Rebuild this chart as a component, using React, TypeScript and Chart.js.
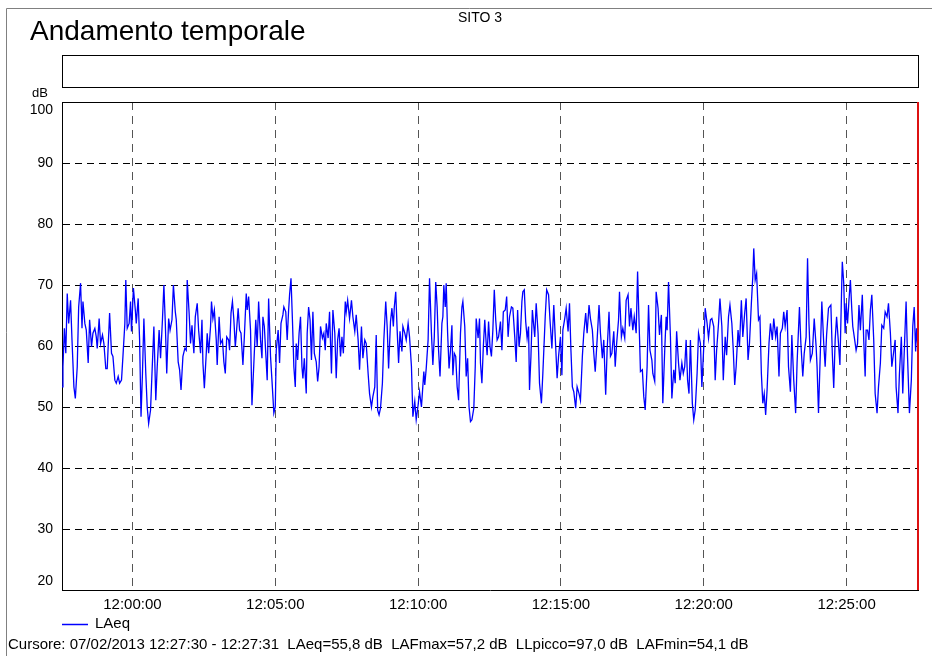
import React, { useEffect, useRef } from "react";
import { Chart, registerables } from "chart.js";

Chart.register(...registerables);

const TITLE = "Andamento temporale";
const SITE = "SITO 3";
const UNIT = "dB";
const SERIES_LABEL = "LAeq";
const CURSOR_TEXT =
  "Cursore: 07/02/2013 12:27:30 - 12:27:31  LAeq=55,8 dB  LAFmax=57,2 dB  LLpicco=97,0 dB  LAFmin=54,1 dB";

// time axis in seconds relative to 12:00:00
const X_MIN = -148;
const X_MAX = 1650;
const cursorSeconds = 1650;
const xTickSeconds = [0, 300, 600, 900, 1200, 1500];
const xTickLabels = ["12:00:00", "12:05:00", "12:10:00", "12:15:00", "12:20:00", "12:25:00"];
const yTickValues = [20, 30, 40, 50, 60, 70, 80, 90, 100];
const yTickLabels = ["20", "30", "40", "50", "60", "70", "80", "90", "100"];

// sample times (s from 12:00:00)
const timeSec = [
  -148, -146, -143, -140, -137, -134, -130, -127, -123, -120,
  -116, -113, -109, -106, -104, -100, -97, -93, -90, -86,
  -83, -79, -76, -74, -70, -67, -63, -60, -56, -53,
  -48, -44, -41, -37, -34, -30, -27, -23, -20, -16,
  -14, -11, -7, -4, -2, 2, 6, 8, 12, 15,
  18, 21, 24, 28, 31, 34, 38, 41, 45, 49,
  52, 56, 59, 63, 66, 69, 72, 76, 79, 83,
  86, 90, 92, 96, 99, 102,
  106, 110, 113, 115, 119, 122, 125, 129, 132, 136,
  139, 143, 146, 148, 151, 155, 157, 160, 164, 166,
  169, 172, 176, 178, 182, 185, 189, 192, 195, 198,
  202, 204, 207, 210, 213, 216, 218, 222, 225, 228,
  232, 235, 239, 241, 244, 248, 251, 255, 259, 262,
  265, 269, 272, 274, 277, 280, 283, 286, 290, 293,
  297, 300, 302, 306, 309, 312, 316, 318, 322, 325,
  328, 330, 333, 336, 339, 342, 344, 347, 350, 353,
  356,
  358, 361, 365, 367, 370, 373, 376, 379, 382, 386,
  389, 392, 395, 399, 402, 405, 407, 411, 414, 418,
  421, 425, 428, 431, 434, 437, 440, 443, 447, 449,
  452, 456, 460, 463, 467, 470, 474, 477, 481, 484,
  488, 491, 495, 498, 502, 505, 509, 512, 515, 518,
  521, 525, 528, 532, 535, 538, 542, 545, 548, 550,
  553, 556, 559, 562, 566, 568, 572, 575, 579, 582,
  586, 589, 593, 596, 600, 603, 607, 612,
  614, 617, 621, 624, 628, 631, 634, 637, 640, 643,
  646, 650, 652, 654, 657, 659, 662, 665, 668, 671,
  673, 676, 679, 682, 685, 689, 692, 694, 698, 701,
  704, 707, 710, 713, 717, 720, 722, 726, 729, 731,
  734, 737, 740, 743, 745, 748, 751, 754, 757, 760,
  763, 766, 769, 773, 776, 779, 783, 786, 789, 792,
  796, 799, 803, 806, 809, 812, 815, 818, 820, 823,
  826, 829, 832, 834, 837, 840, 843, 845, 848, 852,
  855, 859, 862,
  867, 870, 874, 877, 881, 885, 888, 892, 895, 899,
  902, 904, 908, 911, 915, 918, 921, 924, 927, 931,
  934, 938, 941, 945, 948, 952, 955, 959, 962, 966,
  969, 972, 976, 980, 983, 987, 990, 994, 997, 1001,
  1004, 1007, 1011, 1014, 1017, 1021, 1023, 1027, 1030, 1034,
  1037, 1041, 1044, 1047, 1051, 1054, 1058, 1061, 1065, 1067,
  1071, 1074, 1077, 1081, 1084, 1087, 1091, 1093, 1097, 1100,
  1104, 1107, 1111, 1114,
  1118, 1121, 1123, 1126, 1130, 1133, 1137, 1140, 1143, 1147,
  1150, 1154, 1157, 1160, 1163, 1166, 1169, 1172, 1176, 1179,
  1182, 1186, 1189, 1193, 1196, 1200, 1203, 1207, 1210, 1214,
  1217, 1221, 1224, 1227, 1231, 1234, 1238, 1241, 1245, 1248,
  1252, 1255, 1259, 1262, 1265, 1268, 1272, 1275, 1279, 1282,
  1286, 1289, 1293, 1296, 1300, 1303, 1305, 1308, 1311, 1315,
  1318, 1321, 1324, 1327, 1330, 1333, 1337, 1340, 1344, 1347,
  1351, 1354, 1358, 1361, 1365, 1368,
  1371, 1375, 1378, 1382, 1385, 1389, 1393, 1396, 1401, 1404,
  1408, 1411, 1415, 1418, 1421, 1424, 1428, 1432, 1436, 1438,
  1441, 1445, 1448, 1452, 1455, 1458, 1462, 1464, 1467, 1470,
  1473, 1476, 1479, 1483, 1486, 1490, 1491, 1494, 1497, 1499,
  1502, 1505, 1508, 1511, 1513, 1517, 1520, 1523, 1526, 1529,
  1533, 1536, 1539, 1541, 1544, 1547, 1550, 1553, 1557, 1560,
  1564, 1567, 1571, 1574, 1578, 1581, 1585, 1588, 1592, 1595,
  1599, 1602, 1604, 1608, 1611, 1615, 1618, 1622, 1625, 1628,
  1632, 1636, 1639, 1642, 1645, 1647, 1650,
];

// LAeq values (dB)
const laeqDb = [
  53.3, 56.6, 62.9, 58.8, 68.6, 63.7, 67.5, 61, 53.3, 51.4,
  56.6, 66.4, 70.3, 62.9, 67.3, 63.7, 62.6, 57.2, 64.3, 59.9,
  62.1, 62.9, 61.5, 59.6, 64.5, 60.4, 61.8, 60.4, 56.3, 56.3,
  65.4, 58.8, 58.3, 54.4, 53.9, 55, 53.9, 54.4, 58.3, 63.7,
  70.8, 62.9, 63.7, 67.3, 62.4, 69.5, 65.9, 63.7, 67.8, 61,
  48.4, 55.5, 64.5, 55.5, 50, 47.3, 49.5, 55.5, 63.2, 51.1,
  56.6, 62.6, 58, 64.3, 70, 63.7, 55.5, 64.5, 62.6, 64.3,
  70, 65.6, 64.3, 57.4, 56.1, 52.8,
  58.3, 59.6, 59.3, 70.8, 65.4, 60.4, 63.4, 58.8, 64.8, 67,
  62.6, 58.8, 64.3, 57.2, 53.1, 58.8, 62.1, 58.8, 63.2, 67.3,
  64.5, 65.9, 61, 56.9, 64.8, 60.4, 61, 57.4, 55.5, 61.5,
  61, 59.3, 65.4, 67.3, 64.3, 59.9, 61.8, 66.2, 62.6, 62.1,
  56.9, 61.5, 68.6, 65.9, 68.1, 62.6, 50.3, 57.2, 64.3, 59.9,
  67.3, 61, 58, 64.8, 63.2, 58.8, 54.4, 67.8, 58.3, 54.4,
  49, 50, 59.3, 62.6, 57.2, 63.7, 65.1, 66.4, 65.6, 61,
  65.9, 68.4, 71.1, 64.3, 56.6, 53.3, 60.4, 57.7, 62.1, 64.8,
  56.6,
  54.7, 58, 52.2, 62.1, 66.4, 64.3, 57.7, 65.6, 58.8, 57.4,
  54.2, 56.6, 63.2, 61.3, 62.1, 59.3, 63.7, 61.3, 65.6, 55.5,
  65.9, 62.1, 54.7, 61, 62.9, 58.3, 61.5, 58.8, 67.3, 65.6,
  67.5, 64.5, 67.5, 64.8, 62.4, 65.1, 61, 56.1, 63.2, 58,
  61, 60.4, 55.5, 52.2, 50, 51.7, 53.3, 61.8, 49.5, 48.7,
  49.8, 53.9, 61, 67.3, 63.2, 56.3, 64, 66.2, 63.2, 66.4,
  68.9, 62.6, 57.2, 62.4, 59.1, 63.2, 62.1, 61, 63.7, 61.5,
  56.6, 48.4, 50.9, 47.9, 50.3, 52.5, 50, 55.8,
  53.6, 56.3, 61, 71.1, 62.1, 56.9, 61.5, 70.5, 66.4, 59.3,
  55, 63.7, 64.8, 70, 66.4, 70.3, 62.1, 56.3, 59.3, 63.4,
  55.2, 58.8, 58.3, 53.3, 51.1, 62.1, 66.4, 67.3, 63.2, 55,
  58, 50, 47.6, 47.9, 49.8, 56.6, 64.5, 61.3, 64.5, 57.2,
  53.9, 59.9, 64.3, 60.4, 58.5, 64, 59.9, 58.3, 62.6, 69.2,
  64.3, 61, 61.5, 64, 59.3, 65.6, 65.9, 68.1, 61.5, 64.8,
  66.4, 66.2, 61.5, 57.4, 65.9, 59.9, 62.1, 67.3, 68.9, 69.2,
  64, 61.3, 63.2, 52.8, 58.3, 65.9, 63.2, 61.5, 67, 62.1,
  53.9, 50.6, 55.5,
  64.8, 69.2, 68.4, 64.3, 59.6, 66.7, 61.5, 54.7, 58.3, 61.5,
  55.2, 62.6, 64.5, 66.2, 62.4, 67, 59.3, 53.3, 52.5, 49.8,
  53.3, 52.2, 51.1, 58.3, 62.1, 65.4, 62.1, 66.7, 64.5, 62.6,
  58.8, 55.8, 61, 66.7, 62.1, 58, 61, 52, 59.3, 65.6,
  58.3, 58.8, 62.4, 56.6, 60.4, 64.3, 68.9, 61.5, 62.9, 61.3,
  67.5, 68.4, 63.2, 66.2, 62.6, 64.8, 62.1, 72.2, 61.5, 55.8,
  56.1, 51.7, 49.5, 56.6, 66.7, 59.3, 57.7, 55.5, 54.2, 68.9,
  66.2, 61.8, 65.1, 50.6,
  59.3, 64.8, 62.6, 70.5, 61.5, 51.4, 56.1, 53.9, 62.4, 57.2,
  54.4, 57.2, 55.5, 56.6, 61, 54.4, 52.2, 61, 50.6, 47.9,
  49.5, 55.5, 62.1, 60.4, 53.3, 59.9, 66.2, 63.7, 61.3, 64.3,
  64.5, 63.2, 54.4, 59.3, 63.7, 67.8, 63.2, 54.4, 61.5, 58.5,
  64.8, 66.7, 63.7, 59.3, 53.6, 56.6, 62.6, 59.9, 67.5, 61.5,
  65.4, 67.8, 57.7, 60.4, 67, 71.4, 76, 70.8, 71.9, 64.3,
  64.8, 55.5, 50.6, 52.2, 48.7, 52.8, 60.4, 63.7, 61, 64.5,
  61.5, 63.2, 55, 62.1, 62.9, 65.6,
  63.2, 65.9, 56.6, 52.5, 61.8, 54.4, 49, 57.2, 66.4, 60.4,
  55, 58.8, 61.5, 74.4, 63.7, 57.7, 58.8, 64.5, 59.9, 56.6,
  49, 59.3, 67.3, 60.4, 56.6, 61.8, 66.2, 66.4, 66.7, 58.8,
  53.1, 61, 64.8, 60.4, 56.9, 70.8, 73.8, 70.3, 62.1, 67,
  63.7, 67.5, 70.8, 65.9, 63.2, 61, 59.3, 60.4, 66.7, 62.6,
  68.4, 61, 55, 62.6, 62.6, 61, 65.9, 68.4, 61, 52.2,
  49, 53.3, 57.2, 63.4, 62.9, 65.6, 64.8, 67, 62.1, 56.6,
  59.1, 61, 53.3, 49, 55.5, 61.5, 52.2, 61, 67.3, 58.3,
  49, 54.4, 63.2, 66.4, 59.1, 62.9, 59.5,
];

const FONT = "'Liberation Sans', Arial, sans-serif";

const decorPlugin = {
  id: "decor",
  afterDraw(chart: any) {
    const { ctx, chartArea: a, scales } = chart;
    const xs = scales.x;
    const ys = scales.y;
    ctx.save();
    // outer frame
    ctx.strokeStyle = "#808080";
    ctx.lineWidth = 1;
    ctx.beginPath();
    ctx.moveTo(6.5, 656);
    ctx.lineTo(6.5, 8.5);
    ctx.lineTo(932, 8.5);
    ctx.stroke();
    // title
    ctx.fillStyle = "#000";
    ctx.font = `28px ${FONT}`;
    ctx.textAlign = "left";
    ctx.textBaseline = "alphabetic";
    ctx.fillText(TITLE, 30, 40);
    ctx.font = `14px ${FONT}`;
    ctx.textAlign = "center";
    ctx.textBaseline = "middle";
    ctx.fillText(SITE, 480, 18);
    // empty box
    ctx.strokeStyle = "#000";
    ctx.lineWidth = 1;
    ctx.strokeRect(a.left + 0.5, 55.5, a.right - a.left, 32);
    // unit
    ctx.font = `13px ${FONT}`;
    ctx.textAlign = "right";
    ctx.fillText(UNIT, 48, 93);
    // y labels (clamped inside plot)
    ctx.font = `14px ${FONT}`;
    yTickValues.forEach((v, i) => {
      let py = ys.getPixelForValue(v);
      py = Math.min(Math.max(py, a.top + 8), a.bottom - 9);
      ctx.fillText(yTickLabels[i], a.left - 9, py);
    });
    // top border
    ctx.beginPath();
    ctx.moveTo(a.left, a.top + 0.5);
    ctx.lineTo(a.right, a.top + 0.5);
    ctx.stroke();
    // cursor
    const cx = xs.getPixelForValue(cursorSeconds);
    ctx.strokeStyle = "#dd1111";
    ctx.lineWidth = 2;
    ctx.beginPath();
    ctx.moveTo(cx, a.top);
    ctx.lineTo(cx, a.bottom);
    ctx.stroke();
    // legend
    ctx.strokeStyle = "#0000ff";
    ctx.lineWidth = 1.5;
    ctx.beginPath();
    ctx.moveTo(a.left, 624.5);
    ctx.lineTo(a.left + 26, 624.5);
    ctx.stroke();
    ctx.fillStyle = "#000";
    ctx.font = `15px ${FONT}`;
    ctx.textAlign = "left";
    ctx.textBaseline = "middle";
    ctx.fillText(SERIES_LABEL, a.left + 33, 624);
    // cursor text
    ctx.fillText(CURSOR_TEXT, 8, 645);
    ctx.restore();
  },
};

export default function App() {
  const ref = useRef<HTMLCanvasElement | null>(null);
  useEffect(() => {
    if (!ref.current) return;
    const n = Math.min(timeSec.length, laeqDb.length);
    const points = [];
    for (let i = 0; i < n; i++) points.push({ x: timeSec[i], y: laeqDb[i] });
    const chart = new Chart(ref.current, {
      type: "line",
      data: {
        datasets: [
          {
            label: SERIES_LABEL,
            data: points,
            borderColor: "#0000ff",
            borderWidth: 1.3,
            pointRadius: 0,
            tension: 0,
            fill: false,
          },
        ],
      },
      options: {
        responsive: false,
        animation: false,
        devicePixelRatio: 1,
        layout: { padding: { left: 0, right: 14, top: 102, bottom: 0 } },
        plugins: {
          legend: { display: false },
          tooltip: { enabled: false },
          title: { display: false },
        },
        scales: {
          x: {
            type: "linear",
            min: X_MIN,
            max: X_MAX,
            afterBuildTicks: (s: any) => {
              s.ticks = xTickSeconds.map((v) => ({ value: v }));
            },
            afterFit: (s: any) => {
              s.height = 66;
            },
            ticks: {
              autoSkip: false,
              maxRotation: 0,
              padding: 6,
              color: "#000",
              font: { family: FONT, size: 15 },
              callback: (v: any) => {
                const i = xTickSeconds.indexOf(Number(v));
                return i >= 0 ? xTickLabels[i] : "";
              },
            },
            grid: { color: "#555", lineWidth: 1, drawTicks: false },
            border: { display: true, color: "#000", width: 1, dash: [8, 6] },
          },
          y: {
            type: "linear",
            min: 20,
            max: 100,
            afterBuildTicks: (s: any) => {
              s.ticks = yTickValues.map((v) => ({ value: v }));
            },
            afterFit: (s: any) => {
              s.width = 62;
            },
            ticks: { display: false },
            grid: { color: "#000", lineWidth: 1, drawTicks: false },
            border: { display: true, color: "#000", width: 1, dash: [7, 5] },
          },
        },
      },
      plugins: [decorPlugin],
    });
    return () => chart.destroy();
  }, []);
  return (
    <div style={{ position: "absolute", left: 0, top: 0, width: 932, height: 656, background: "#fff" }}>
      <canvas ref={ref} width={932} height={656} style={{ display: "block" }} />
    </div>
  );
}
